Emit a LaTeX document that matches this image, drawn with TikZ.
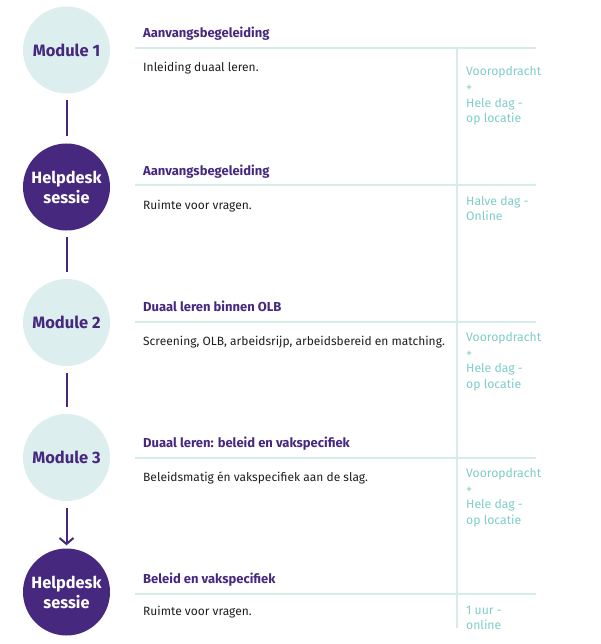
\documentclass[tikz,border=0pt]{standalone}
\usepackage{fontspec}
\setmainfont{Fira Sans}
\usetikzlibrary{arrows.meta}
\definecolor{dpurple}{HTML}{46287F}
\definecolor{lteal}{HTML}{DDEEEE}
\definecolor{tealtxt}{HTML}{7DCDC8}
\definecolor{rule}{HTML}{D6ECEB}
\definecolor{bodytxt}{HTML}{1E1E1E}
\tikzset{
  modcirc/.style={circle, fill=lteal, minimum size=87pt, inner sep=0pt, text=dpurple, font=\fontsize{16.5}{18}\selectfont\bfseries, align=center},
  helpcirc/.style={circle, fill=dpurple, minimum size=87pt, inner sep=0pt, text=white, font=\fontsize{16.3}{20}\selectfont\bfseries, align=center},
  heading/.style={anchor=base west, inner sep=0pt, text=dpurple, font=\fontsize{13}{15}\selectfont\bfseries},
  bodytext/.style={anchor=base west, inner sep=0pt, text=bodytxt, font=\fontsize{12}{14}\selectfont},
  sidetext/.style={anchor=base west, inner sep=0pt, text=tealtxt, font=\fontsize{12.2}{15.6}\selectfont, align=left},
  tealrule/.style={draw=rule, line width=2pt},
  conn/.style={draw=dpurple, line width=2pt, shorten <=6.5pt, shorten >=7pt},
}
\begin{document}
\begin{tikzpicture}[x=1pt,y=-1pt]
\useasboundingbox (0,0) rectangle (600,644);
% rules
\coordinate (r1a) at (135,48.5); \coordinate (r1b) at (536,48.5);
\coordinate (r2a) at (135,185.5); \coordinate (r2b) at (536,185.5);
\coordinate (r3a) at (135,321.5); \coordinate (r3b) at (536,321.5);
\coordinate (r4a) at (135,457.5); \coordinate (r4b) at (536,457.5);
\coordinate (r5a) at (135,593.5); \coordinate (r5b) at (536,593.5);
\coordinate (vt) at (456.5,48.5); \coordinate (vb) at (456.5,628);
\draw[tealrule] (r1a) -- (r1b);
\draw[tealrule] (r2a) -- (r2b);
\draw[tealrule] (r3a) -- (r3b);
\draw[tealrule] (r4a) -- (r4b);
\draw[tealrule] (r5a) -- (r5b);
\draw[tealrule] (vt) -- (vb);
% circles
\node[modcirc] (m1) at (66.5,50) {Module 1};
\node[helpcirc] (h1) at (66.5,187) {Helpdesk\\sessie};
\node[modcirc] (m2) at (66.5,322.5) {Module 2};
\node[modcirc] (m3) at (66.5,457.5) {Module 3};
\node[helpcirc] (h2) at (66.5,592) {Helpdesk\\sessie};
% connectors
\draw[conn] (m1) -- (h1);
\draw[conn] (h1) -- (m2);
\draw[conn] (m2) -- (m3);
\draw[conn, -{Straight Barb[length=6pt,width=14pt,line width=2pt]}, shorten >=3pt] (m3) -- (h2);
% headings
\node[heading] (t1) at (143,38) {Aanvangsbegeleiding};
\node[heading] (t2) at (143,175.5) {Aanvangsbegeleiding};
\node[heading] (t3) at (143,311.5) {Duaal leren binnen OLB};
\node[heading] (t4) at (143,447.5) {Duaal leren: beleid en vakspecifiek};
\node[heading] (t5) at (143,583) {Beleid en vakspecifiek};
% body
\node[bodytext] (b1) at (143,72) {Inleiding duaal leren.};
\node[bodytext] (b2) at (143,209) {Ruimte voor vragen.};
\node[bodytext] (b3) at (143,345.5) {Screening, OLB, arbeidsrijp, arbeidsbereid en matching.};
\node[bodytext] (b4) at (143,481) {Beleidsmatig én vakspecifiek aan de slag.};
\node[bodytext] (b5) at (143,615.5) {Ruimte voor vragen.};
% side (base = last line)
\node[sidetext] (s1) at (466,122.8) {Vooropdracht\\+\\Hele dag -\\op locatie};
\node[sidetext] (s2) at (466,220.6) {Halve dag -\\Online};
\node[sidetext] (s3) at (466,388.3) {Vooropdracht\\+\\Hele dag -\\op locatie};
\node[sidetext] (s4) at (466,524.3) {Vooropdracht\\+\\Hele dag -\\op locatie};
\node[sidetext] (s5) at (466,629.6) {1 uur -\\online};
\end{tikzpicture}
\end{document}
